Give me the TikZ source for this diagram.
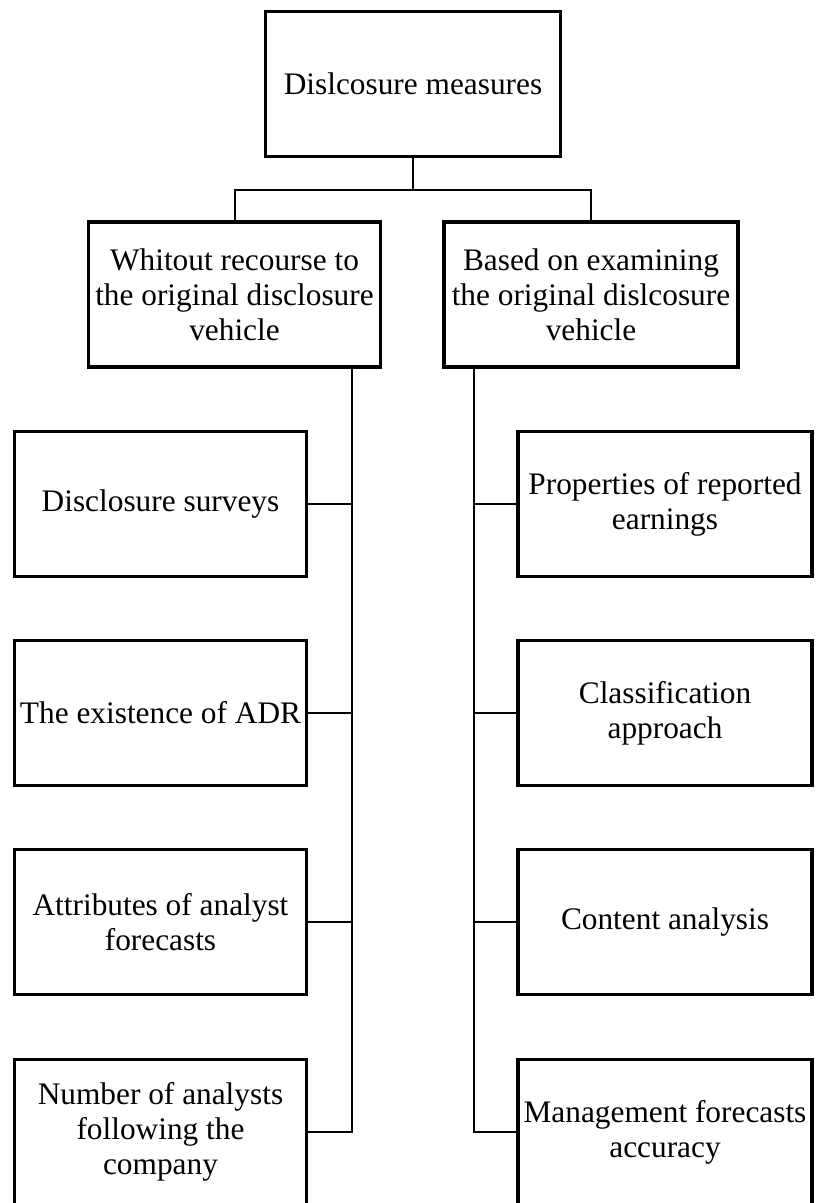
\documentclass[tikz,border=0pt]{standalone}
\usepackage{fontspec}
\setmainfont{Liberation Serif}
\begin{document}
\begin{tikzpicture}[x=0.75pt,y=-0.75pt,
  box/.style={draw=black,line width=2.5pt,rectangle,inner sep=0pt,
    minimum width=#1*0.75pt,minimum height=145*0.75pt,align=center,
    font=\fontsize{23.5}{26.25}\selectfont},
  box/.default=293,
  conn/.style={draw=black,line width=1.5pt}]
\useasboundingbox (0,0) rectangle (815,1203);
\node[box=295] (top) at (413,84) {Dislcosure measures};
\node[box=292] (ml) at (234.5,294.5) {Whitout recourse to\\the original disclosure\\vehicle};
\node[box=294] (mr) at (591,294.5) {Based on examining\\the original dislcosure\\vehicle};
\node[box=292] (l1) at (160.5,504) {Disclosure surveys};
\node[box=292] (l2) at (160.5,713) {The existence of ADR};
\node[box=292] (l3) at (160.5,922) {Attributes of analyst\\forecasts};
\node[box=292] (l4) at (160.5,1132) {Number of analysts\\following the\\company};
\node[box=294] (r1) at (665,504) {Properties of reported\\earnings};
\node[box=294] (r2) at (665,713) {Classification\\approach};
\node[box=294] (r3) at (665,922) {Content analysis};
\node[box=294] (r4) at (665,1132) {Management forecasts\\accuracy};
\coordinate (jL) at (234.5,190);
\coordinate (jR) at (591,190);
\coordinate (lbus) at (352,368);
\coordinate (rbus) at (474,368);
\draw[conn] (top.south) -- (top.south |- jL);
\draw[conn] (ml.north) |- (jR) -- (mr.north);
\draw[conn] (lbus) |- (l4.east);
\draw[conn] (l1.east) -- (l1.east -| lbus);
\draw[conn] (l2.east) -- (l2.east -| lbus);
\draw[conn] (l3.east) -- (l3.east -| lbus);
\draw[conn] (rbus) |- (r4.west);
\draw[conn] (r1.west) -- (r1.west -| rbus);
\draw[conn] (r2.west) -- (r2.west -| rbus);
\draw[conn] (r3.west) -- (r3.west -| rbus);
\end{tikzpicture}
\end{document}
